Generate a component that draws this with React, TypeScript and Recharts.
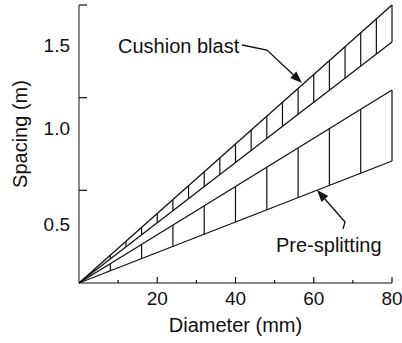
import {
  ComposedChart,
  Line,
  XAxis,
  YAxis,
  ReferenceLine,
  Label,
} from 'recharts';

const diameters = [0, 80];
const cushionUpper = [0, 1.8];
const cushionLower = [0, 1.56];
const splitUpper = [0, 1.25];
const splitLower = [0, 0.79];

const cushionHatch = [4, 8, 12, 16, 20, 24, 28, 32, 36, 40, 44, 48, 52, 56, 60, 64, 68, 72, 76, 80];
const splitHatch = [8, 16, 24, 32, 40, 48, 56, 64, 72, 80];

const xMajorTicks = [20, 40, 60, 80];
const xMinorTicks = [10, 30, 50, 70];
const yTickMarks = [0.6, 1.2, 1.8];
const yLabelPos = [0.38, 1.0, 1.54];
const yLabels = ['0.5', '1.0', '1.5'];

const data = diameters.map((d, i) => ({
  d,
  cushionUpper: cushionUpper[i],
  cushionLower: cushionLower[i],
  splitUpper: splitUpper[i],
  splitLower: splitLower[i],
}));

// both bands are straight lines from the origin, so a hatch sits on them at d/80
const dMax = diameters[diameters.length - 1];
const onLine = (arr: number[], d: number) => (arr[arr.length - 1] * d) / dMax;

const FONT = '"Liberation Sans", Arial, sans-serif';
const INK = '#111';

const xTicks = [...xMajorTicks, ...xMinorTicks].sort((a, b) => a - b);
const yTicks = [...yTickMarks, ...yLabelPos].sort((a, b) => a - b);

// inward tick marks, long for majors, short for minors; labels only on majors
function XTick({ x, y, payload }: any) {
  const major = xMajorTicks.includes(payload.value);
  return (
    <g>
      <line x1={x} y1={y} x2={x} y2={y - (major ? 6 : 3)} stroke={INK} strokeWidth={1.2} />
      {major && (
        <text x={x} y={y + 22} textAnchor="middle" fontSize={19} fill={INK}>
          {payload.value}
        </text>
      )}
    </g>
  );
}

// tick marks and labels of the y axis do not sit at the same heights in the source
function YTick({ x, y, payload }: any) {
  const li = yLabelPos.indexOf(payload.value);
  if (li >= 0) {
    return (
      <text x={x - 9} y={y} textAnchor="end" dominantBaseline="central" fontSize={19} fill={INK}>
        {yLabels[li]}
      </text>
    );
  }
  return <line x1={x} y1={y} x2={x + 8} y2={y} stroke={INK} strokeWidth={1.2} />;
}

function Arrow({ pts }: { pts: number[][] }) {
  const [tx, ty] = pts[pts.length - 1];
  const [px, py] = pts[pts.length - 2];
  const len = Math.hypot(tx - px, ty - py);
  const ux = (tx - px) / len;
  const uy = (ty - py) / len;
  const bx = tx - 12 * ux;
  const by = ty - 12 * uy;
  const w = 4.5;
  const line = pts.slice(0, -1).concat([[bx, by]]).map((p) => p.join(',')).join(' ');
  return (
    <g>
      <polyline points={line} fill="none" stroke={INK} strokeWidth={1.3} />
      <polygon
        points={`${tx},${ty} ${bx - uy * w},${by + ux * w} ${bx + uy * w},${by - ux * w}`}
        fill={INK}
      />
    </g>
  );
}

export default function App() {
  return (
    <div style={{ position: 'absolute', left: 0, top: 0, width: 402, height: 343, background: '#fff' }}>
      <ComposedChart
        width={402}
        height={343}
        data={data}
        margin={{ top: 5, right: 10, bottom: 0, left: 0 }}
        style={{ fontFamily: FONT }}
      >
        <XAxis
          type="number"
          dataKey="d"
          domain={[0, 80]}
          ticks={xTicks}
          interval={0}
          tickLine={false}
          tickSize={0}
          tickMargin={0}
          height={60}
          stroke={INK}
          tick={<XTick />}
        >
          <Label value="Diameter (mm)" position="insideBottom" offset={11} fill={INK} fontSize={20} />
        </XAxis>
        <YAxis
          type="number"
          domain={[0, 1.8]}
          ticks={yTicks}
          interval={0}
          tickLine={false}
          tickSize={0}
          tickMargin={0}
          width={79}
          stroke={INK}
          tick={<YTick />}
        >
          <Label
            content={(p: any) => {
              const vb = p.viewBox;
              const cx = vb.x + 20;
              const cy = vb.y + vb.height / 2 - 10;
              return (
                <text
                  x={cx}
                  y={cy}
                  transform={`rotate(-90 ${cx} ${cy})`}
                  textAnchor="middle"
                  dominantBaseline="central"
                  fontSize={20}
                  fill={INK}
                >
                  Spacing (m)
                </text>
              );
            }}
          />
        </YAxis>

        {cushionHatch.map((d) => (
          <ReferenceLine
            key={'c' + d}
            segment={[
              { x: d, y: onLine(cushionLower, d) },
              { x: d, y: onLine(cushionUpper, d) },
            ]}
            stroke={INK}
            strokeWidth={1.2}
            ifOverflow="visible"
          />
        ))}
        {splitHatch.map((d) => (
          <ReferenceLine
            key={'s' + d}
            segment={[
              { x: d, y: onLine(splitLower, d) },
              { x: d, y: onLine(splitUpper, d) },
            ]}
            stroke={INK}
            strokeWidth={1.2}
            ifOverflow="visible"
          />
        ))}

        <Line type="linear" dataKey="cushionUpper" stroke={INK} strokeWidth={1.3} dot={false} isAnimationActive={false} />
        <Line type="linear" dataKey="cushionLower" stroke={INK} strokeWidth={1.3} dot={false} isAnimationActive={false} />
        <Line type="linear" dataKey="splitUpper" stroke={INK} strokeWidth={1.3} dot={false} isAnimationActive={false} />
        <Line type="linear" dataKey="splitLower" stroke={INK} strokeWidth={1.3} dot={false} isAnimationActive={false} />
      </ComposedChart>

      {/* callouts */}
      <svg
        width={402}
        height={343}
        style={{ position: 'absolute', left: 0, top: 0, pointerEvents: 'none', fontFamily: FONT }}
      >
        <text x={118} y={53} fontSize={20} fill={INK}>Cushion blast</text>
        <Arrow pts={[[242, 45], [267, 50], [302, 83]]} />
        <text x={276} y={252} fontSize={20} fill={INK}>Pre-splitting</text>
        <Arrow pts={[[343, 229], [345, 222], [317, 190]]} />
      </svg>
    </div>
  );
}
